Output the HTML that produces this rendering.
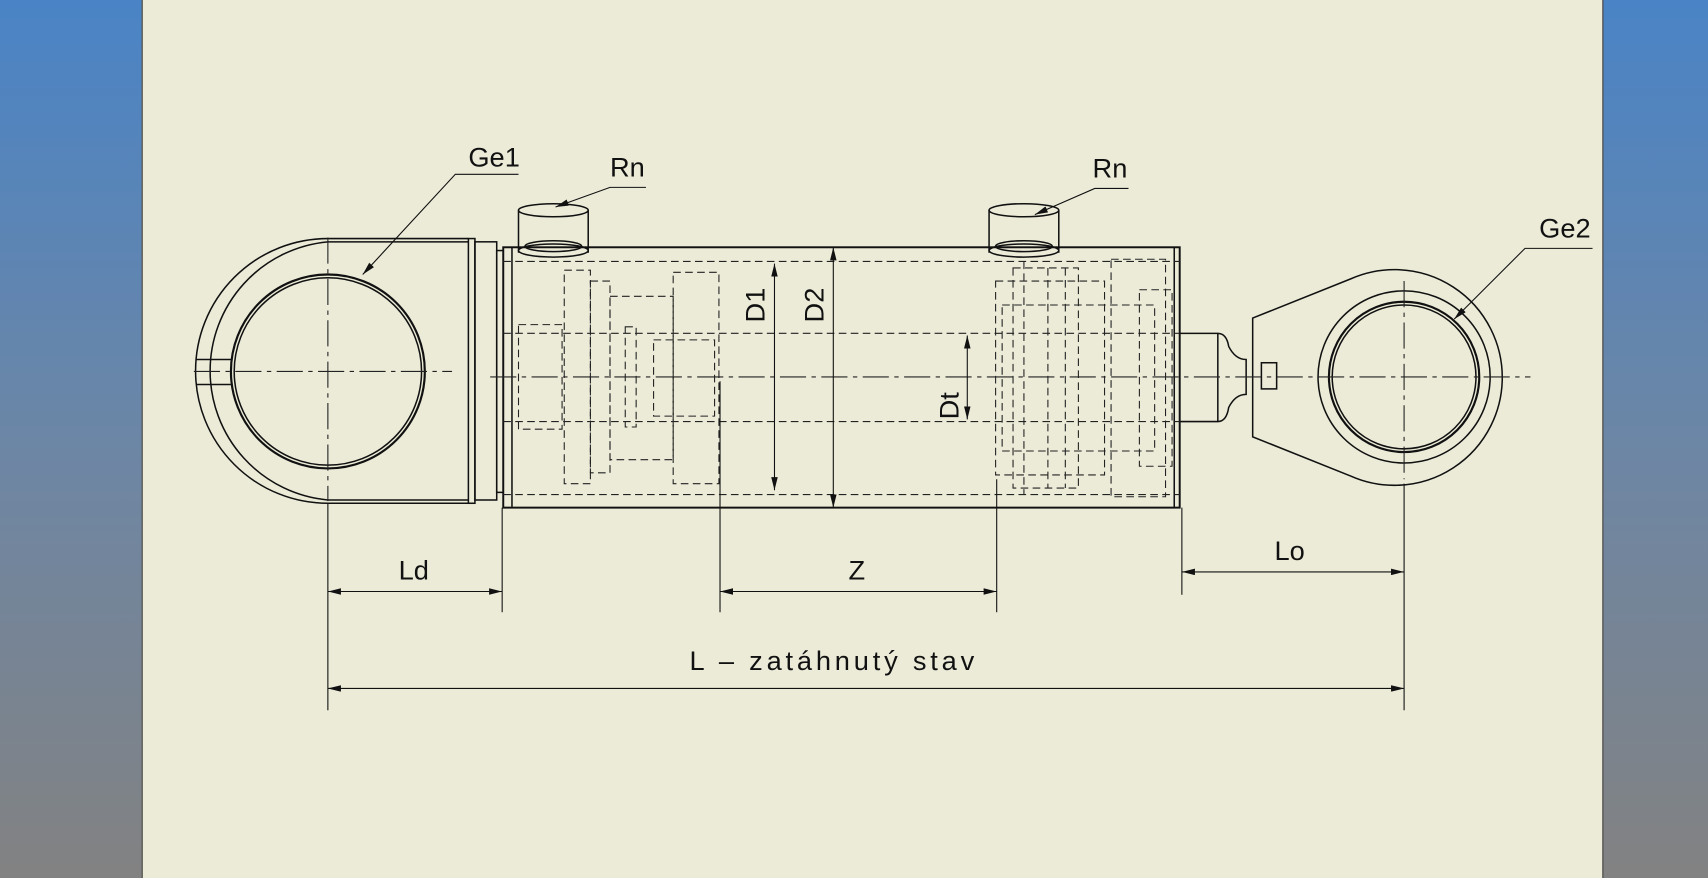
<!DOCTYPE html>
<html><head><meta charset="utf-8"><style>
html,body{margin:0;padding:0;width:1708px;height:878px;overflow:hidden;background:#ecebd8}
svg{display:block}
text{font-family:"Liberation Sans","DejaVu Sans",sans-serif;font-size:25px;fill:#111}
</style></head><body>
<svg width="1708" height="878" viewBox="0 0 1568 806" preserveAspectRatio="none" xmlns="http://www.w3.org/2000/svg">
<defs><linearGradient id="g" x1="0" y1="0" x2="0" y2="1"><stop offset="0" stop-color="#4a84c6"/><stop offset="0.55" stop-color="#6f86a2"/><stop offset="1" stop-color="#828282"/></linearGradient>
<marker id="a" viewBox="0 0 12 6" refX="12" refY="3" markerWidth="12" markerHeight="6" orient="auto-start-reverse" markerUnits="userSpaceOnUse"><path d="M0,0 L12,3 L0,6 Z" fill="#111"/></marker></defs>
<rect x="0" y="0" width="130" height="806" fill="url(#g)"/>
<rect x="1472" y="0" width="96" height="806" fill="url(#g)"/>
<rect x="130" y="0" width="1342" height="806" fill="#ecebd8"/>
<line x1="130.5" y1="0" x2="130.5" y2="806" stroke="#333"/>
<line x1="1471.5" y1="0" x2="1471.5" y2="806" stroke="#333"/>
<g fill="none" stroke="#111" stroke-width="1.4">
<path d="M430,219 H301 A121,121 0 0 0 301,462 H430"/>
<path d="M430,222 H301 A119,119 0 0 0 301,459 H430"/>
<circle cx="301" cy="341" r="89" stroke-width="2"/>
<circle cx="301" cy="341" r="86"/>
<path d="M180,330 H212 M180,353 H212"/>
<rect x="430" y="219" width="6" height="243"/>
<rect x="436" y="222" width="20" height="237"/>
<rect x="456" y="230" width="6" height="222"/>
<rect x="462" y="227" width="621" height="239" stroke-width="1.8"/>
<line x1="470" y1="227" x2="470" y2="466"/>
<line x1="1078" y1="227" x2="1078" y2="466"/>
<path d="M476,193 V232 M540,193 V232"/><ellipse cx="508" cy="193" rx="32" ry="6"/><ellipse cx="508" cy="230" rx="32" ry="6"/><ellipse cx="508" cy="226" rx="26" ry="5"/>
<path d="M908,193 V232 M972,193 V232"/><ellipse cx="940" cy="193" rx="32" ry="6"/><ellipse cx="940" cy="230" rx="32" ry="6"/><ellipse cx="940" cy="226" rx="26" ry="5"/>
<path d="M1083,306 H1118 Q1126,306 1128,318 Q1134,330 1144,330 V362 Q1134,362 1128,374 Q1126,387 1118,387 H1083"/>
<path d="M1118,306 V387"/>
<rect x="1158" y="333" width="14" height="24"/>
<path d="M1150,292 L1240,256 A99,99 0 1 1 1240,437 L1150,401 Z"/>
<circle cx="1289" cy="346" r="79"/>
<circle cx="1289" cy="346" r="69" stroke-width="2"/>
<circle cx="1289" cy="346" r="66"/>
</g>
<g fill="none" stroke="#222" stroke-width="1" stroke-dasharray="7,4">
<line x1="462" y1="240" x2="1083" y2="240"/><line x1="462" y1="454" x2="1083" y2="454"/>
<line x1="462" y1="306" x2="1083" y2="306"/><line x1="462" y1="387" x2="1083" y2="387"/>
<rect x="476" y="298" width="40" height="96"/><rect x="518" y="248" width="24" height="196"/>
<rect x="542" y="258" width="18" height="176"/><rect x="560" y="272" width="58" height="150"/>
<rect x="600" y="312" width="56" height="70"/><rect x="618" y="250" width="42" height="194"/>
<rect x="574" y="300" width="10" height="92"/>
<rect x="914" y="258" width="100" height="178"/><rect x="930" y="246" width="60" height="202"/>
<rect x="920" y="280" width="140" height="134"/><rect x="1020" y="238" width="50" height="218"/>
<rect x="1046" y="266" width="30" height="162"/>
<line x1="940" y1="240" x2="940" y2="454"/><line x1="962" y1="246" x2="962" y2="448"/>
<line x1="978" y1="246" x2="978" y2="448"/>
</g>
<g stroke="#222" stroke-width="1" stroke-dasharray="24,5,4,5" fill="none">
<line x1="178" y1="341" x2="415" y2="341"/>
<line x1="301" y1="218" x2="301" y2="460"/>
<line x1="450" y1="346" x2="1405" y2="346"/>
<line x1="1289" y1="258" x2="1289" y2="440"/>
</g>
<g stroke="#111" stroke-width="1" fill="none">
<line x1="301" y1="462" x2="301" y2="652"/><line x1="461" y1="466" x2="461" y2="562"/>
<line x1="661" y1="350" x2="661" y2="562"/><line x1="915" y1="440" x2="915" y2="562"/>
<line x1="1085" y1="466" x2="1085" y2="546"/><line x1="1289" y1="444" x2="1289" y2="652"/>
<line x1="301" y1="543" x2="461" y2="543" marker-start="url(#a)" marker-end="url(#a)"/>
<line x1="661" y1="543" x2="915" y2="543" marker-start="url(#a)" marker-end="url(#a)"/>
<line x1="1085" y1="525" x2="1289" y2="525" marker-start="url(#a)" marker-end="url(#a)"/>
<line x1="301" y1="632" x2="1289" y2="632" marker-start="url(#a)" marker-end="url(#a)"/>
<line x1="711" y1="242" x2="711" y2="450" marker-start="url(#a)" marker-end="url(#a)"/>
<line x1="765" y1="227" x2="765" y2="466" marker-start="url(#a)" marker-end="url(#a)"/>
<line x1="888" y1="308" x2="888" y2="385" marker-start="url(#a)" marker-end="url(#a)"/>
<polyline points="476,160 418,160 333,252" marker-end="url(#a)"/>
<polyline points="593,172 560,172 510,190" marker-end="url(#a)"/>
<polyline points="1036,173 1005,173 950,197" marker-end="url(#a)"/>
<polyline points="1462,228 1400,228 1335,293" marker-end="url(#a)"/>
</g>
<text x="430" y="153">Ge1</text>
<text x="560" y="162">Rn</text>
<text x="1003" y="163">Rn</text>
<text x="1413" y="218">Ge2</text>
<text x="366" y="532">Ld</text>
<text x="779" y="532">Z</text>
<text x="1170" y="514">Lo</text>
<text x="633" y="615" letter-spacing="3.5">L – zatáhnutý stav</text>
<text transform="translate(702,296) rotate(-90)">D1</text>
<text transform="translate(756,296) rotate(-90)">D2</text>
<text transform="translate(880,385) rotate(-90)">Dt</text>
</svg>
</body></html>
